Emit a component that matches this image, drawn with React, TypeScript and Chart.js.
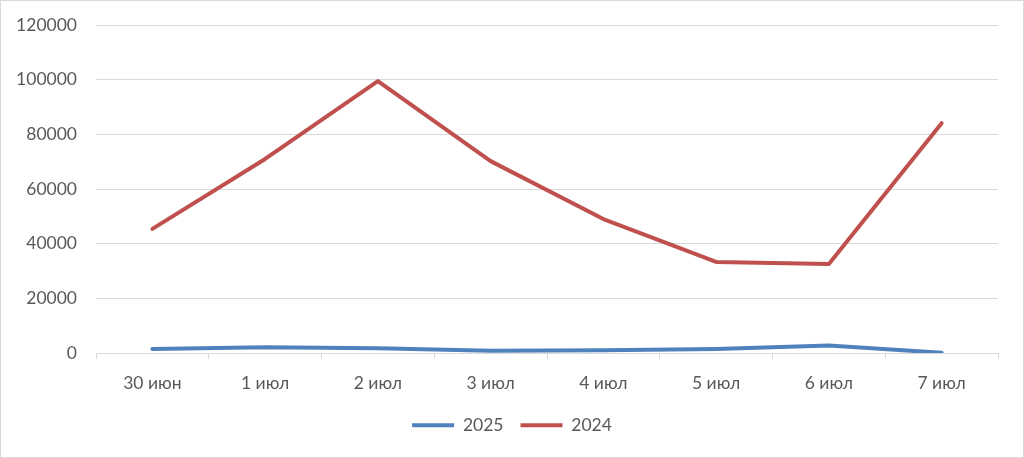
import React, { useEffect, useRef } from "react";
import { Chart, registerables } from "chart.js";

Chart.register(...registerables);

const categories = ["30 июн", "1 июл", "2 июл", "3 июл", "4 июл", "5 июл", "6 июл", "7 июл"];
const series2025 = [1500, 2100, 1700, 850, 1000, 1500, 2700, 100];
const series2024 = [45400, 71000, 99500, 70200, 49000, 33300, 32600, 84100];
const yTicks = [0, 20000, 40000, 60000, 80000, 100000, 120000];

const FONT = "Lato, 'Open Sans', sans-serif";
const TEXT = "#595959";
const GRID = "#D9D9D9";

const framePlugin = {
  id: "frame",
  afterLayout(chart: any) {
    if (chart.legend) {
      chart.legend.left = 26;
    }
  },
  beforeDraw(chart: any) {
    const ctx = chart.ctx;
    ctx.save();
    ctx.fillStyle = "#ffffff";
    ctx.fillRect(0, 0, chart.width, chart.height);
    ctx.strokeStyle = GRID;
    ctx.lineWidth = 1;
    ctx.strokeRect(0.5, 0.5, chart.width - 1, chart.height - 1);
    ctx.restore();
  },
};

export default function App() {
  const ref = useRef<HTMLCanvasElement | null>(null);
  useEffect(() => {
    if (!ref.current) return;
    const chart = new Chart(ref.current, {
      type: "line",
      data: {
        labels: categories,
        datasets: [
          {
            label: "2025",
            data: series2025,
            borderColor: "#4F81BD",
            backgroundColor: "#4F81BD",
            borderWidth: 4,
            borderCapStyle: "round",
            borderJoinStyle: "round",
            pointRadius: 0,
            pointHoverRadius: 0,
            tension: 0,
          },
          {
            label: "2024",
            data: series2024,
            borderColor: "#C0504D",
            backgroundColor: "#C0504D",
            borderWidth: 4,
            borderCapStyle: "round",
            borderJoinStyle: "round",
            pointRadius: 0,
            pointHoverRadius: 0,
            tension: 0,
          },
        ],
      },
      options: {
        animation: false,
        responsive: false,
        maintainAspectRatio: false,
        layout: { padding: { left: 0, right: 26, top: 25, bottom: 14 } },
        scales: {
          x: {
            type: "category",
            offset: true,
            grid: {
              display: true,
              drawOnChartArea: false,
              drawTicks: true,
              tickLength: 6,
              color: GRID,
              offset: true,
            },
            border: { display: true, color: GRID, width: 1 },
            ticks: { color: TEXT, font: { family: FONT, size: 17.5 }, padding: 14, maxRotation: 0 },
            afterFit: (scale: any) => {
              scale.height = 46.5;
            },
          },
          y: {
            min: 0,
            max: 120000,
            afterBuildTicks: (scale: any) => {
              scale.ticks = yTicks.map((v) => ({ value: v }));
            },
            grid: { color: GRID, drawTicks: true, tickLength: 19, tickColor: "rgba(0,0,0,0)", lineWidth: 1 },
            border: { display: false },
            ticks: {
              color: TEXT,
              font: { family: FONT, size: 17.5 },
              padding: 0,
              callback: (v: any) => String(v),
            },
            afterFit: (scale: any) => {
              scale.width = 96;
            },
          },
        },
        plugins: {
          legend: {
            display: true,
            position: "bottom",
            labels: {
              color: TEXT,
              font: { family: FONT, size: 17.5 },
              usePointStyle: true,
              pointStyle: "line",
              pointStyleWidth: 42,
              boxHeight: 17,
              padding: 17,
            },
          },
          tooltip: { enabled: false },
        },
      },
      plugins: [framePlugin],
    });
    return () => chart.destroy();
  }, []);
  return (
    <div style={{ position: "fixed", left: 0, top: 0, width: 1024, height: 458 }}>
      <canvas ref={ref} width={1024} height={458} style={{ display: "block", width: 1024, height: 458 }} />
    </div>
  );
}
